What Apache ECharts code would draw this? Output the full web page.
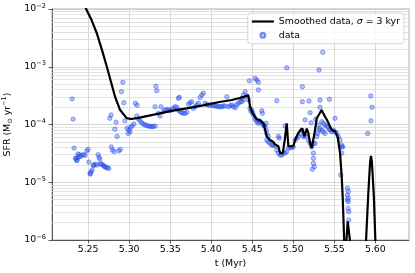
<!DOCTYPE html>
<html><head><meta charset="utf-8">
<script src="https://cdn.jsdelivr.net/npm/echarts@6/dist/echarts.min.js"></script>
<style>html,body{margin:0;padding:0;background:#fff}#c{width:415px;height:273px}</style>
</head><body><div id="c"></div>
<script>
const xTicks = [5.25, 5.30, 5.35, 5.40, 5.45, 5.50, 5.55, 5.60];
const yMinor = [2e-6,3e-6,4e-6,5e-6,6e-6,7e-6,8e-6,9e-6,
                2e-5,3e-5,4e-5,5e-5,6e-5,7e-5,8e-5,9e-5,
                2e-4,3e-4,4e-4,5e-4,6e-4,7e-4,8e-4,9e-4,
                2e-3,3e-3,4e-3,5e-3,6e-3,7e-3,8e-3,9e-3];

const smoothT = [5.244,5.2476,5.2545,5.2606,5.2667,5.2728,5.278,5.2829,5.289,5.297,5.302,5.31,5.33,5.35,5.37,5.39,5.41,5.425,5.435,5.4453,
  5.4473,5.4506,5.4555,5.46,5.464,5.4677,5.4717,5.4757,5.4778,5.4818,5.4839,5.4872,5.4896,5.492,5.494,5.5,5.5022,5.506,5.5085,5.511,
  5.5135,5.5164,5.5184,5.5204,5.5225,5.5245,5.5265,5.5286,5.531,5.5345,5.5366,5.5387,5.541,5.543,5.545,5.547,5.549,5.551,5.554,5.557,
  5.559,5.5602,5.562,5.5634,5.5648,5.5663,5.569,5.5705,5.575,5.583,5.586,5.5887,5.5912,5.5928,5.5937,5.5947,5.5957,5.5966,5.5982,5.600,
  5.6015,5.606];
const smoothSFR = [1.6e-2,1.0e-2,6.3e-3,3.8e-3,2.0e-3,1.0e-3,5.4e-4,3.0e-4,1.78e-4,1.29e-4,1.245e-4,1.29e-4,1.48e-4,1.70e-4,1.9e-4,2.14e-4,2.45e-4,2.66e-4,2.88e-4,3.2e-4,
  2.04e-4,1.56e-4,1.23e-4,1.17e-4,1.02e-4,6.2e-5,5.4e-5,5.0e-5,4.5e-5,4.2e-5,3.2e-5,3.2e-5,5.4e-5,1.05e-4,4.2e-5,4.2e-5,5.4e-5,7.1e-5,7.9e-5,8.5e-5,
  6.2e-5,8.5e-5,7.1e-5,4.7e-5,3.9e-5,4.2e-5,8.0e-5,1.29e-4,1.46e-4,1.78e-4,1.83e-4,1.36e-4,1.2e-4,1.05e-4,9.1e-5,8.0e-5,7.9e-5,7.6e-5,6.2e-5,3.2e-5,
  1.26e-5,5.6e-6,1.0e-6,4e-7,1.0e-6,2.1e-6,1.0e-6,1e-8,1e-9,1e-9,3e-7,1.0e-6,5.6e-6,1.43e-5,2.3e-5,2.85e-5,2.3e-5,1.43e-5,5.6e-6,1.0e-6,
  3e-7,1e-9];

const dataPoints = [
  [5.2305,2.77e-4],[5.2317,1.24e-4],[5.2329,3.9e-5],[5.2345,2.6e-5],[5.2354,2.6e-5],[5.2362,2.36e-5],[5.2366,2.43e-5],[5.2375,3.1e-5],[5.2378,2.7e-5],[5.2394,3.0e-5],
  [5.2403,2.77e-5],[5.2423,2.93e-5],[5.2443,3.0e-5],[5.2463,2.93e-5],[5.2484,3.5e-5],[5.25,3.7e-5],[5.2509,2.24e-5],[5.2524,1.43e-5],[5.2528,1.39e-5],[5.2537,1.52e-5],
  [5.2549,1.63e-5],[5.2565,1.94e-5],[5.2569,1.99e-5],[5.2585,2.05e-5],[5.2606,1.99e-5],[5.2622,3.0e-5],[5.2634,2.7e-5],[5.2643,2.5e-5],[5.2646,2.07e-5],[5.2662,2.07e-5],
  [5.2679,1.99e-5],[5.2695,1.9e-5],[5.2703,1.86e-5],[5.2719,1.82e-5],[5.2735,1.77e-5],[5.2752,1.74e-5],
  [5.2764,1.28e-4],[5.278,1.46e-4],[5.2784,4.1e-5],[5.2796,3.6e-5],[5.2817,3.4e-5],[5.2825,8.3e-5],[5.2841,1.1e-4],[5.2853,6.2e-5],[5.2874,3.5e-5],[5.2893,3.7e-5],
  [5.2906,3.7e-4],[5.2923,5.4e-4],[5.2935,2.38e-4],[5.2947,1.16e-4],[5.2975,8.6e-5],[5.2987,7.0e-5],[5.2996,8.0e-5],[5.3012,7.5e-5],[5.3015,8.9e-5],[5.3036,9.4e-5],
  [5.3057,1.02e-4],[5.3076,2.33e-4],[5.3097,2.15e-4],
  [5.3093,1.4e-4],[5.3113,1.25e-4],[5.3133,1.15e-4],[5.3154,1.07e-4],[5.3174,1.02e-4],[5.3194,9.8e-5],[5.3215,9.6e-5],[5.3235,9.4e-5],[5.3256,9.3e-5],[5.3276,9.2e-5],
  [5.3295,9.2e-5],[5.3316,9.4e-5],
  [5.3316,2.03e-4],[5.3325,4.6e-4],[5.3337,3.85e-4],[5.3356,1.56e-4],[5.3377,1.4e-4],[5.3389,2.03e-4],[5.3417,1.67e-4],[5.3438,1.78e-4],[5.3459,1.83e-4],[5.3478,1.78e-4],
  [5.3499,1.73e-4],[5.352,1.83e-4],[5.3539,1.9e-4],[5.356,2.03e-4],[5.3581,1.99e-4],[5.36,1.78e-4],[5.3621,1.67e-4],[5.3641,1.6e-4],[5.3661,1.56e-4],[5.3682,1.56e-4],
  [5.3702,1.63e-4],[5.36,2.84e-4],[5.3612,2.96e-4],[5.3722,2.24e-4],[5.3743,2.38e-4],[5.3763,2.48e-4],[5.3783,1.9e-4],[5.3803,2.03e-4],[5.3824,2.18e-4],[5.3844,2.33e-4],
  [5.3864,2.92e-4],[5.3885,3.24e-4],[5.3904,3.47e-4],[5.3925,2.33e-4],[5.3945,2.2e-4],[5.3965,2.18e-4],[5.3986,2.15e-4],[5.4007,2.18e-4],[5.4027,2.12e-4],[5.4047,2.09e-4],
  [5.4067,2.1e-4],[5.4087,2.03e-4],[5.4108,2.05e-4],[5.4129,2.03e-4],[5.4149,2.1e-4],[5.4169,2.09e-4],[5.419,3.03e-4],[5.4209,2.03e-4],[5.423,2.12e-4],[5.4251,2.18e-4],
  [5.4271,2.05e-4],[5.4291,1.95e-4],[5.4311,2.2e-4],[5.4331,2.33e-4],[5.4352,2.48e-4],[5.4372,2.48e-4],[5.4392,2.65e-4],[5.4413,3.7e-4],[5.4433,3.12e-4],[5.4465,5.7e-4],
  [5.4372,2.84e-4],[5.4392,3.24e-4],[5.4453,2.65e-4],[5.4473,1.9e-4],[5.4484,1.7e-4],[5.4494,1.78e-4],[5.4504,1.6e-4],[5.4514,1.46e-4],[5.4534,1.28e-4],[5.4534,6.3e-4],
  [5.4545,1.2e-4],[5.4555,5.9e-4],[5.4555,1.12e-4],[5.4575,5.4e-4],[5.4575,3.96e-4],[5.4575,1.05e-4],[5.4585,1.16e-4],[5.4595,1.12e-4],[5.4616,1.73e-4],[5.4623,1.56e-4],
  [5.4616,1.05e-4],[5.4636,9.8e-5],[5.4646,9.5e-5],[5.4656,9.2e-5],[5.4668,1.05e-4],[5.4668,8.0e-5],[5.4677,7.0e-5],[5.4677,5.4e-5],[5.4696,6.2e-5],[5.4696,5.0e-5],
  [5.4717,4.7e-5],[5.4738,4.4e-5],[5.4757,4.4e-5],[5.4778,4.25e-5],[5.4799,3.6e-5],[5.4799,2.58e-4],[5.4818,3.2e-5],[5.4818,6.2e-5],[5.483,5.8e-5],[5.4839,2.96e-5],
  [5.486,2.96e-5],[5.4879,3.2e-5],[5.49,3.2e-5],[5.49,9.4e-5],[5.492,3.4e-5],[5.492,9.6e-4],[5.494,3.9e-5],[5.4961,4.0e-5],[5.4981,4.0e-5],[5.5001,4.1e-5],
  [5.5359,1.78e-3],[5.5314,8.8e-4],[5.5111,4.5e-4],[5.5111,2.48e-4],[5.5192,2.55e-4],[5.5326,2.65e-4],[5.544,2.73e-4],[5.5326,1.99e-4],[5.5204,1.6e-4],[5.5143,1.2e-4],
  [5.5217,1.07e-4],[5.5274,1.23e-4],[5.5509,1.28e-4],[5.5347,1.12e-4],[5.5366,1.05e-4],[5.5387,9.8e-5],[5.5408,9.2e-5],[5.5427,9.2e-5],[5.544,8.3e-5],[5.5306,9.8e-5],
  [5.5326,8.6e-5],[5.5347,8.0e-5],[5.5366,7.5e-5],[5.5387,7.0e-5],[5.5448,8.0e-5],[5.5469,7.5e-5],[5.5488,8.0e-5],[5.5509,7.5e-5],[5.553,7.0e-5],[5.5549,6.2e-5],
  [5.557,5.4e-5],[5.559,4.1e-5],[5.5022,5.4e-5],[5.5042,5.8e-5],[5.5062,6.2e-5],[5.5083,7.0e-5],[5.5103,8.0e-5],[5.5123,6.2e-5],[5.5143,6.2e-5],[5.5164,7.0e-5],
  [5.5184,5.4e-5],[5.5204,4.7e-5],[5.5225,4.1e-5],[5.5245,4.7e-5],[5.5245,3.2e-5],[5.5245,2.6e-5],[5.5245,2.13e-5],[5.5257,1.86e-5],[5.5232,1.68e-5],[5.5265,4.7e-5],
  [5.5286,6.2e-5],[5.5298,7.0e-5],[5.5314,8.0e-5],
  [5.5907,7.0e-5],[5.5578,1.34e-5],[5.559,4.4e-5],[5.5603,4.1e-5],[5.559,3.2e-5],[5.5659,7.9e-6],[5.5671,6.9e-6],[5.5659,6.0e-6],[5.5671,5.3e-6],[5.5659,4.9e-6],
  [5.5671,4.6e-6],[5.5668,3.5e-6],[5.5676,3.1e-6],[5.5676,2.22e-6],[5.5944,3.12e-4],[5.596,1.99e-4],[5.5947,1.16e-4]
];

const FONT = 'DejaVu Sans';
const FS = 9.4;
const lineName = 'Smoothed data, σ = 3 kyr';
const scatterName = 'data';

const chart = echarts.init(document.getElementById('c'), null, {renderer: 'canvas'});
chart.setOption({
  animation: false,
  backgroundColor: '#fff',
  grid: {left: 52, right: 6, top: 9, bottom: 33, show: true, borderColor: '#999', borderWidth: 0.8, containLabel: false, outerBoundsMode: 'none'},
  legend: {
    data: [
      {name: lineName, itemStyle: {color: 'rgba(0,0,0,0)', borderColor: 'rgba(0,0,0,0)', borderWidth: 0},
       lineStyle: {color: '#000', width: 2.2}},
      {name: scatterName}
    ],
    orient: 'vertical', right: 11, top: 13, align: 'left',
    itemWidth: 22, itemHeight: 5, itemGap: 4.8,
    padding: [4, 4, 4, 3],
    borderColor: '#ccc', borderWidth: 0.8, borderRadius: 3,
    backgroundColor: 'rgba(255,255,255,0.8)',
    formatter: n => n.replace('σ', '{i|σ}'),
    textStyle: {fontSize: FS, color: '#000', fontFamily: FONT,
      rich: {i: {fontStyle: 'italic', fontSize: FS, fontFamily: FONT, color: '#000'}}}
  },
  xAxis: {
    type: 'value', min: 5.206, max: 5.641,
    axisLine: {show: true, lineStyle: {color: '#333', width: 0.8}},
    axisTick: {show: true, customValues: xTicks, length: 3.5, lineStyle: {color: '#333', width: 0.8}},
    axisLabel: {customValues: xTicks, formatter: v => v.toFixed(2), fontSize: FS, color: '#000', fontFamily: FONT, margin: 5},
    splitLine: {show: true, lineStyle: {color: '#cfcfcf', width: 0.8}},
    name: 't (Myr)', nameLocation: 'middle', nameGap: 17,
    nameTextStyle: {fontSize: FS, color: '#000', fontFamily: FONT}
  },
  yAxis: {
    type: 'log', logBase: 10, min: 1e-6, max: 1e-2,
    axisLine: {show: true, lineStyle: {color: '#333', width: 0.8}},
    axisTick: {show: true, length: 3.5, lineStyle: {color: '#333', width: 0.8}},
    axisLabel: {
      margin: 6, fontFamily: FONT, color: '#000',
      formatter: v => '{b|10}{s|−' + Math.round(-Math.log10(v)) + '}',
      rich: {
        b: {fontSize: FS, fontFamily: FONT, color: '#000'},
        s: {fontSize: 6.6, fontFamily: FONT, color: '#000', padding: [0, 0, 6, 0]}
      }
    },
    splitLine: {show: true, lineStyle: {color: '#cfcfcf', width: 0.8}},
    name: 'SFR (M{sub|⊙} yr{sup|−1})', nameLocation: 'middle', nameGap: 33,
    nameTextStyle: {fontSize: FS, color: '#000', fontFamily: FONT,
      rich: {
        sub: {fontSize: 6.6, fontFamily: FONT, color: '#000', padding: [5, 0, 0, 0]},
        sup: {fontSize: 6.6, fontFamily: FONT, color: '#000', padding: [0, 0, 6, 0]}
      }}
  },
  series: [
    {
      type: 'scatter', name: scatterName, data: dataPoints, z: 3,
      symbol: 'circle', symbolSize: 4.4,
      itemStyle: {color: 'rgba(35,75,240,0.34)', borderColor: 'rgba(35,75,240,0.58)', borderWidth: 0.8, opacity: 1},
      markLine: {silent: true, z: 1, symbol: ['none', 'none'], symbolSize: 0, label: {show: false},
        animation: false,
        lineStyle: {color: '#d9d9d9', width: 0.8, type: 'solid', opacity: 1},
        data: yMinor.map(v => [{coord: [5.206, v]}, {coord: [5.641, v]}])}
    },
    {
      type: 'line', name: lineName, z: 5,
      data: smoothT.map((t, i) => [t, smoothSFR[i]]),
      showSymbol: false, symbol: 'none', smooth: false, clip: true,
      lineStyle: {color: '#000', width: 2.2}, itemStyle: {color: '#000'}
    }
  ]
});
</script>
</body></html>
